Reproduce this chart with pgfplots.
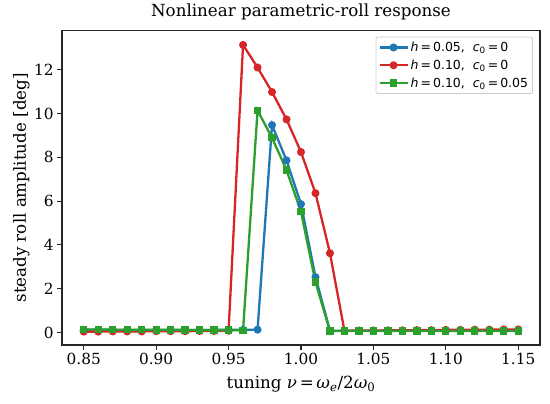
\documentclass[border=0pt]{standalone}
\usepackage{fontspec}
\setmainfont{DejaVu Serif}
\newfontfamily\legfont{DejaVu Sans}
\usepackage{pgfplots}
\pgfplotsset{compat=1.18}
\definecolor{cblue}{RGB}{31,119,180}
\definecolor{cred}{RGB}{214,39,40}
\definecolor{cgreen}{RGB}{44,160,44}
\newcommand{\eqs}{\hspace{0.16em}=\hspace{0.16em}}
\begin{document}
\begin{tikzpicture}[x=1pt,y=1pt]
\path[use as bounding box] (0,0) rectangle (550,404);
\begin{axis}[
  at={(62pt,59pt)}, anchor=south west,
  scale only axis, width=478pt, height=314.3pt,
  xmin=0.835, xmax=1.165, ymin=-0.57, ymax=13.78,
  xtick={0.85,0.9,0.95,1.0,1.05,1.1,1.15},
  ytick={0,2,4,6,8,10,12},
  scaled ticks=false,
  xticklabel style={/pgf/number format/.cd, fixed, fixed zerofill, precision=2},
  /pgf/number format/assume math mode=true,
  xtick pos=lower, ytick pos=left,
  tick align=outside, major tick length=4.9pt,
  tick style={line width=1.1pt, color=black!85},
  axis line style={line width=1.1pt, color=black!85},
  tick label style={font=\fontsize{15.3}{18}\selectfont},
  title={Nonlinear parametric-roll response},
  title style={font=\fontsize{16.7}{20}\selectfont, at={([yshift=8.6pt]axis description cs:0.5,1)}, anchor=base},
  xlabel={tuning \textit{ν}\eqs\textit{ω}\textsubscript{\textit{e}}/2\textit{ω}\textsubscript{0}},
  xlabel style={font=\fontsize{16.7}{20}\selectfont, at={([yshift=-44pt]axis description cs:0.5,0)}, anchor=base},
  ylabel={steady roll amplitude [deg]},
  ylabel style={font=\fontsize{16.7}{20}\selectfont, at={([xshift=-36pt]axis description cs:0,0.5)}, anchor=base, rotate=0},
  legend style={at={([xshift=-7pt,yshift=-6pt]axis description cs:1,1)}, anchor=north east,
    draw=black!20, rounded corners=2pt, fill=white, line width=0.8pt,
    font=\legfont\fontsize{12.5}{15}\selectfont, inner xsep=2.5pt, inner ysep=1.5pt, row sep=0pt,
    nodes={inner ysep=3.4pt}},
  legend cell align=left,
  legend image code/.code={\draw[mark repeat=2,mark phase=2,#1] plot coordinates {(0pt,0pt) (14pt,0pt) (28pt,0pt)};},
]
\addplot[cblue, line width=2.3pt, mark=*, mark size=2.8pt, mark options={solid}] coordinates {
(0.85,0.12) (0.86,0.12) (0.87,0.12) (0.88,0.11) (0.89,0.11) (0.90,0.11) (0.91,0.11) (0.92,0.11) (0.93,0.11) (0.94,0.12) (0.95,0.12) (0.96,0.12) (0.97,0.13)
(0.98,9.47) (0.99,7.86) (1.00,5.86) (1.01,2.53)
(1.02,0.08) (1.03,0.08) (1.04,0.08) (1.05,0.08) (1.06,0.08) (1.07,0.08) (1.08,0.08) (1.09,0.08) (1.10,0.08) (1.11,0.08) (1.12,0.08) (1.13,0.08) (1.14,0.08) (1.15,0.08)
};
\addlegendentry{\textit{h}\eqs0.05,\ \ \textit{c}\textsubscript{0}\eqs0}
\addplot[cred, line width=2.3pt, mark=*, mark size=2.8pt, mark options={solid}] coordinates {
(0.85,0.04) (0.86,0.04) (0.87,0.05) (0.88,0.05) (0.89,0.05) (0.90,0.06) (0.91,0.06) (0.92,0.06) (0.93,0.07) (0.94,0.07) (0.95,0.08)
(0.96,13.13) (0.97,12.10) (0.98,10.98) (0.99,9.73) (1.00,8.24) (1.01,6.36) (1.02,3.62)
(1.03,0.08) (1.04,0.09) (1.05,0.09) (1.06,0.10) (1.07,0.10) (1.08,0.11) (1.09,0.11) (1.10,0.12) (1.11,0.12) (1.12,0.13) (1.13,0.13) (1.14,0.14) (1.15,0.14)
};
\addlegendentry{\textit{h}\eqs0.10,\ \ \textit{c}\textsubscript{0}\eqs0}
\addplot[cgreen, line width=2.3pt, mark=square*, mark size=2.5pt, mark options={solid}] coordinates {
(0.85,0.14) (0.86,0.14) (0.87,0.13) (0.88,0.13) (0.89,0.13) (0.90,0.12) (0.91,0.12) (0.92,0.12) (0.93,0.11) (0.94,0.11) (0.95,0.11) (0.96,0.10)
(0.97,10.14) (0.98,8.89) (0.99,7.42) (1.00,5.51) (1.01,2.30)
(1.02,0.07) (1.03,0.07) (1.04,0.07) (1.05,0.07) (1.06,0.07) (1.07,0.07) (1.08,0.07) (1.09,0.07) (1.10,0.07) (1.11,0.07) (1.12,0.07) (1.13,0.07) (1.14,0.07) (1.15,0.07)
};
\addlegendentry{\textit{h}\eqs0.10,\ \ \textit{c}\textsubscript{0}\eqs0.05}
\end{axis}
\end{tikzpicture}
\end{document}
